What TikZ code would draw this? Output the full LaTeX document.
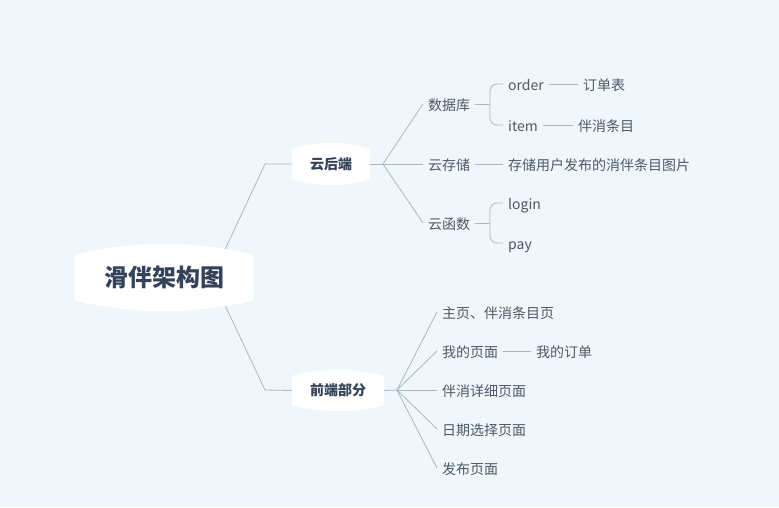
\documentclass[tikz,border=0pt]{standalone}
\usepackage{fontspec}
\setmainfont{Noto Sans CJK SC}
\usetikzlibrary{calc,backgrounds}
\definecolor{bgc}{HTML}{EFF7FA}
\definecolor{linkc}{HTML}{A9B6C4}
\definecolor{leafc}{HTML}{4F5868}
\definecolor{topicc}{HTML}{34425A}
\tikzset{
  leaf/.style={anchor=west,inner xsep=5pt,inner ysep=0pt,text height=13.5pt,text depth=0.5pt,
    font=\fontsize{14}{16}\selectfont,text=leafc},
  topic/.style={inner sep=0pt,font=\fontsize{14}{16}\selectfont\bfseries,text=topicc},
  link/.style={draw=linkc,line width=0.8pt},
}
% white box with bulging top and bottom
\newcommand\bubble[2]{%
  \fill[white] ($(#1.north west)+(0,#2)$)
    .. controls ($(#1.north west)!0.33!(#1.north east)+(0,-#2/3)$) and ($(#1.north west)!0.67!(#1.north east)+(0,-#2/3)$) .. ($(#1.north east)+(0,#2)$)
    -- ($(#1.south east)+(0,-#2)$)
    .. controls ($(#1.south west)!0.67!(#1.south east)+(0,#2/3)$) and ($(#1.south west)!0.33!(#1.south east)+(0,#2/3)$) .. ($(#1.south west)+(0,-#2)$)
    -- cycle;}
\begin{document}
\begin{tikzpicture}[x=1pt,y=-1pt]
\useasboundingbox (0,0) rectangle (779,507);
\node[topic,font=\fontsize{24}{28}\selectfont\bfseries,minimum width=178pt,minimum height=67pt] (root) at (164,277.5) {滑伴架构图};
\node[topic,minimum width=78pt,minimum height=42pt] (cloud) at (331,164) {云后端};
\node[topic,minimum width=92pt,minimum height=41pt] (front) at (338,390.5) {前端部分};

\node[leaf] (db) at (423,104) {数据库};
\node[leaf] (store) at (423,164) {云存储};
\node[leaf] (fn) at (423,223) {云函数};
\node[leaf] (order) at (503,84) {order};
\node[leaf] (item) at (503,125) {item};
\node[leaf] (ordert) at (578,84) {订单表};
\node[leaf] (itemt) at (573,125) {伴消条目};
\node[leaf] (pics) at (503,164) {存储用户发布的消伴条目图片};
\node[leaf] (login) at (503,203) {login};
\node[leaf] (pay) at (503,243) {pay};

\node[leaf] (home) at (437,312) {主页、伴消条目页};
\node[leaf] (mine) at (437,351) {我的页面};
\node[leaf] (myorder) at (531,351) {我的订单};
\node[leaf] (detail) at (437,390) {伴消详细页面};
\node[leaf] (date) at (437,429) {日期选择页面};
\node[leaf] (post) at (437,468) {发布页面};

\coordinate (j1) at (265,164);
\coordinate (j2) at (265,390);
\coordinate (f1) at (383,164);
\coordinate (f2) at (397,390);
\coordinate (b1) at (490,104);
\coordinate (b2) at (490,223);

\begin{scope}[on background layer]
  \fill[bgc] (0,0) rectangle (779,507);
  \draw[link] ($(root.center)+(48,0)$) -- (j1) -- (cloud.west);
  \draw[link] ($(root.center)+(48,0)$) -- (j2) -- (front.west);
  \draw[link] (cloud.east) -- (f1);
  \foreach \t in {db,store,fn}
    \draw[link] (f1) -- (\t.west);
  \draw[link] (db.east) -- (b1);
  \draw[link,rounded corners=7pt] (order.west) -| (b1) |- (item.west);
  \draw[link] (fn.east) -- (b2);
  \draw[link,rounded corners=7pt] (login.west) -| (b2) |- (pay.west);
  \draw[link] (order.east) -- (ordert.west);
  \draw[link] (item.east) -- (itemt.west);
  \draw[link] (store.east) -- (pics.west);
  \draw[link] (front.east) -- (f2);
  \foreach \t in {home,mine,detail,date,post}
    \draw[link] (f2) -- (\t.west);
  \draw[link] (mine.east) -- (myorder.west);
  \bubble{root}{11}
  \bubble{cloud}{6}
  \bubble{front}{6}
\end{scope}
\end{tikzpicture}
\end{document}
